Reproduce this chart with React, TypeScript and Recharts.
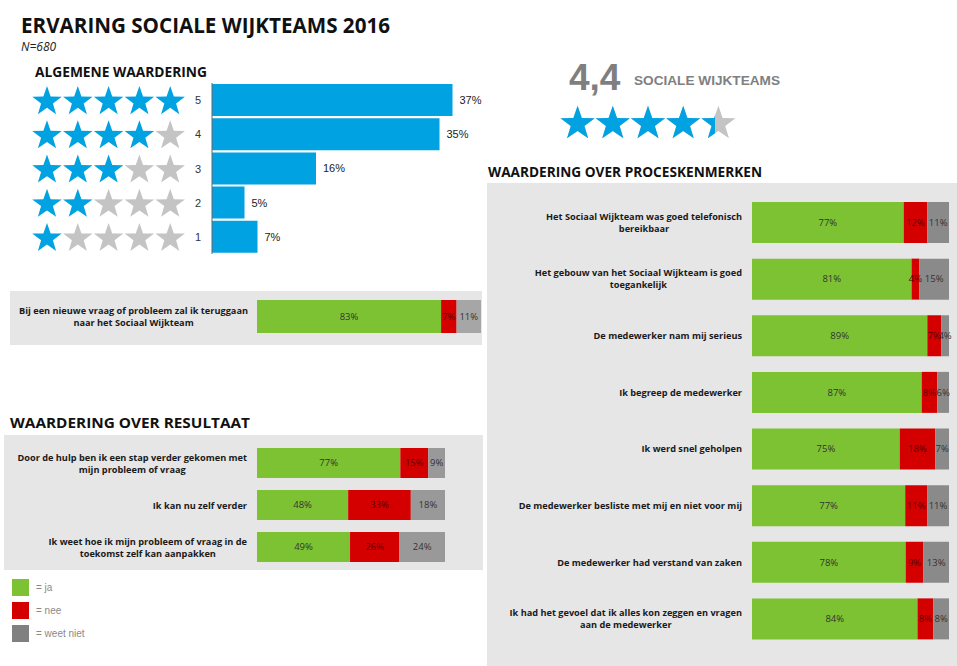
import React from 'react';
import { BarChart, Bar, XAxis, YAxis, LabelList } from 'recharts';

// algemene waardering (aantal sterren -> aandeel)
const ratingLevels = ['5', '4', '3', '2', '1'];
const ratingShares = [37, 35, 16, 5, 7];

const averageScore = 4.4;
const maxScore = 5;

const returnQuestions = ['Bij een nieuwe vraag of probleem zal ik teruggaan\nnaar het Sociaal Wijkteam'];
const returnJa = [83];
const returnNee = [7];
const returnWeet = [11];

const resultQuestions = [
  'Door de hulp ben ik een stap verder gekomen met\nmijn probleem of vraag',
  'Ik kan nu zelf verder',
  'Ik weet hoe ik mijn probleem of vraag in de\ntoekomst zelf kan aanpakken',
];
const resultJa = [77, 48, 49];
const resultNee = [15, 33, 26];
const resultWeet = [9, 18, 24];

const processQuestions = [
  'Het Sociaal Wijkteam was goed telefonisch\nbereikbaar',
  'Het gebouw van het Sociaal Wijkteam is goed\ntoegankelijk',
  'De medewerker nam mij serieus',
  'Ik begreep de medewerker',
  'Ik werd snel geholpen',
  'De medewerker besliste met mij en niet voor mij',
  'De medewerker had verstand van zaken',
  'Ik had het gevoel dat ik alles kon zeggen en vragen\naan de medewerker',
];
const processJa = [77, 81, 89, 87, 75, 77, 78, 84];
const processNee = [12, 4, 7, 8, 18, 11, 9, 8];
const processWeet = [11, 15, 4, 6, 7, 11, 13, 8];

const legendLabels = ['= ja', '= nee', '= weet niet'];

const BLUE = '#00a2e2';
const STAR_GRAY = '#c4c4c4';
const GREEN = '#7dc233';
const RED = '#d40000';
const PANEL = '#e6e6e6';
const LABEL_SIZE = 9.2;
const LABEL_FONT = `bold ${LABEL_SIZE}px 'Open Sans'`;

let measureCtx: CanvasRenderingContext2D | null = null;
function textWidth(text: string, font: string) {
  if (!measureCtx) measureCtx = document.createElement('canvas').getContext('2d');
  if (!measureCtx) return text.length * 5;
  measureCtx.font = font;
  return measureCtx.measureText(text).width;
}

function starPoints(cx: number, cy: number, R: number) {
  const r = R * 0.4;
  const pts: string[] = [];
  for (let k = 0; k < 10; k++) {
    const a = ((-90 + k * 36) * Math.PI) / 180;
    const rad = k % 2 === 0 ? R : r;
    pts.push(`${(cx + rad * Math.cos(a)).toFixed(2)},${(cy + rad * Math.sin(a)).toFixed(2)}`);
  }
  return pts.join(' ');
}

function StarTick(props: any) {
  const { y, payload } = props;
  const filled = Number(payload.value);
  const cy = y + 1.5;
  return (
    <g>
      {[0, 1, 2, 3, 4].map((i) => (
        <polygon key={i} points={starPoints(47 + i * 30.8, cy, 15.5)} fill={i < filled ? BLUE : STAR_GRAY} />
      ))}
      <text x={198} y={y} textAnchor="middle" dominantBaseline="central" fontSize={11} fontFamily="Arial" fill="#333">
        {payload.value}
      </text>
    </g>
  );
}

function ScoreStars(props: any) {
  const { x, y, width, height, payload } = props;
  const full = (width * maxScore) / payload.score;
  const unit = full / maxScore;
  const R = 18;
  const cy = y + height / 2 + 1.7;
  const stars = Array.from({ length: maxScore }, (_, i) => x + unit * (i + 0.5));
  return (
    <g>
      <defs>
        <clipPath id="scoreClip">
          <rect x={x} y={y - 5} width={width} height={height + 10} />
        </clipPath>
      </defs>
      {stars.map((cx, i) => (
        <polygon key={'g' + i} points={starPoints(cx, cy, R)} fill={STAR_GRAY} />
      ))}
      <g clipPath="url(#scoreClip)">
        {stars.map((cx, i) => (
          <polygon key={'b' + i} points={starPoints(cx, cy, R)} fill={BLUE} />
        ))}
      </g>
    </g>
  );
}

function QuestionTick(props: any) {
  const { y, payload, right } = props;
  const lines = String(payload.value).split('\n');
  const maxW = Math.max(...lines.map((l) => textWidth(l, LABEL_FONT)));
  const cx = right - maxW / 2;
  const lh = 12;
  return (
    <g>
      {lines.map((l, i) => (
        <text
          key={i}
          x={cx}
          y={y + (i - (lines.length - 1) / 2) * lh}
          textAnchor="middle"
          dominantBaseline="central"
          fontSize={LABEL_SIZE}
          fontWeight="bold"
          fontFamily="'Open Sans'"
          fill="#1a1a1a"
        >
          {l}
        </text>
      ))}
    </g>
  );
}

const pct = (v: any) => `${v}%`;

function StackedPanel(props: {
  questions: string[];
  ja: number[];
  nee: number[];
  weet: number[];
  width: number;
  height: number;
  axisWidth: number;
  labelRight: number;
  margin: { top: number; right: number; bottom: number; left: number };
  gap: number;
  gray: string;
}) {
  const { questions, ja, nee, weet, width, height, axisWidth, labelRight, margin, gap, gray } = props;
  const data = questions.map((q, i) => ({ q, ja: ja[i], nee: nee[i], weet: weet[i] }));
  return (
    <BarChart layout="vertical" width={width} height={height} data={data} margin={margin} stackOffset="expand" barCategoryGap={gap}>
      <XAxis type="number" domain={[0, 1]} hide />
      <YAxis
        type="category"
        dataKey="q"
        width={axisWidth}
        axisLine={false}
        tickLine={false}
        interval={0}
        tick={(p: any) => <QuestionTick {...p} right={labelRight} />}
      />
      <Bar dataKey="ja" stackId="s" fill={GREEN} isAnimationActive={false}>
        <LabelList dataKey="ja" position="center" formatter={pct} fontSize={9.5} fill="#333" />
      </Bar>
      <Bar dataKey="nee" stackId="s" fill={RED} isAnimationActive={false}>
        <LabelList dataKey="nee" position="center" formatter={pct} fontSize={9.5} fill="#5a0000" />
      </Bar>
      <Bar dataKey="weet" stackId="s" fill={gray} isAnimationActive={false}>
        <LabelList dataKey="weet" position="center" formatter={pct} fontSize={9.5} fill="#333" />
      </Bar>
    </BarChart>
  );
}

export default function App() {
  const ratingData = ratingLevels.map((level, i) => ({ level, share: ratingShares[i] }));
  const scoreData = [{ name: 'score', score: averageScore }];
  const legendColors = [GREEN, RED, '#808080'];

  return (
    <div
      style={{
        position: 'absolute',
        left: 0,
        top: 0,
        width: 957,
        height: 666,
        background: '#fff',
        fontFamily: "'Open Sans', sans-serif",
        overflow: 'hidden',
      }}
    >
      {/* grijze vlakken */}
      <div style={{ position: 'absolute', left: 10, top: 291, width: 472, height: 54, background: PANEL }} />
      <div style={{ position: 'absolute', left: 4, top: 435, width: 479, height: 135, background: PANEL }} />
      <div style={{ position: 'absolute', left: 487, top: 183, width: 470, height: 483, background: PANEL }} />

      <svg width={957} height={666} style={{ position: 'absolute', left: 0, top: 0 }}>
        <text x={21} y={33} fontSize={21} fontWeight="bold" fill="#111" textLength={369} lengthAdjust="spacingAndGlyphs">
          ERVARING SOCIALE WIJKTEAMS 2016
        </text>
        <text x={21} y={51} fontSize={12} fontStyle="italic" fill="#222">
          N=680
        </text>
        <text x={35} y={77} fontSize={14.5} fontWeight="bold" fill="#111" textLength={172} lengthAdjust="spacingAndGlyphs">
          ALGEMENE WAARDERING
        </text>
        <text x={569} y={90} fontSize={37} fontWeight="bold" fontFamily="Arial" fill="#7f7f7f">
          4,4
        </text>
        <text x={634} y={85} fontSize={13.5} fontWeight="bold" fontFamily="Arial" fill="#808080" textLength={146} lengthAdjust="spacingAndGlyphs">
          SOCIALE WIJKTEAMS
        </text>
        <text x={488} y={177} fontSize={14.5} fontWeight="bold" fill="#111" textLength={274} lengthAdjust="spacingAndGlyphs">
          WAARDERING OVER PROCESKENMERKEN
        </text>
        <text x={10} y={428} fontSize={14.5} fontWeight="bold" fill="#111" textLength={240} lengthAdjust="spacingAndGlyphs">
          WAARDERING OVER RESULTAAT
        </text>
        {legendLabels.map((l, i) => (
          <g key={l}>
            <rect x={12} y={579 + i * 23} width={17} height={17} fill={legendColors[i]} />
            <text x={36} y={591 + i * 23} fontSize={10} fontFamily="Arial" fill="#8a8a8a">
              {l}
            </text>
          </g>
        ))}
      </svg>

      <div style={{ position: 'absolute', left: 0, top: 83 }}>
        <BarChart layout="vertical" width={500} height={171} data={ratingData} margin={{ top: 0, right: 28, bottom: 0, left: 0 }} barCategoryGap={1}>
          <XAxis type="number" domain={[0, 40]} hide />
          <YAxis type="category" dataKey="level" width={212} axisLine={{ stroke: '#666' }} tickLine={false} tick={StarTick} interval={0} />
          <Bar dataKey="share" fill={BLUE} isAnimationActive={false}>
            <LabelList dataKey="share" position="right" offset={7} formatter={pct} fontSize={11} fontFamily="Arial" fill="#222" />
          </Bar>
        </BarChart>
      </div>

      <div style={{ position: 'absolute', left: 560, top: 104 }}>
        <BarChart layout="vertical" width={176} height={36} data={scoreData} margin={{ top: 0, right: 0, bottom: 0, left: 0 }} barCategoryGap={0}>
          <XAxis type="number" domain={[0, maxScore]} hide />
          <YAxis type="category" dataKey="name" hide />
          <Bar dataKey="score" isAnimationActive={false} shape={ScoreStars} />
        </BarChart>
      </div>

      <div style={{ position: 'absolute', left: 10, top: 291 }}>
        <StackedPanel
          questions={returnQuestions}
          ja={returnJa}
          nee={returnNee}
          weet={returnWeet}
          width={472}
          height={54}
          axisWidth={247}
          labelRight={238}
          margin={{ top: 9, right: 1, bottom: 12, left: 0 }}
          gap={0}
          gray="#a6a6a6"
        />
      </div>

      <div style={{ position: 'absolute', left: 4, top: 442 }}>
        <StackedPanel
          questions={resultQuestions}
          ja={resultJa}
          nee={resultNee}
          weet={resultWeet}
          width={479}
          height={126}
          axisWidth={253}
          labelRight={243}
          margin={{ top: 0, right: 38, bottom: 0, left: 0 }}
          gap={6}
          gray="#999999"
        />
      </div>

      <div style={{ position: 'absolute', left: 487, top: 194 }}>
        <StackedPanel
          questions={processQuestions}
          ja={processJa}
          nee={processNee}
          weet={processWeet}
          width={470}
          height={453}
          axisWidth={265}
          labelRight={255}
          margin={{ top: 0, right: 8, bottom: 0, left: 0 }}
          gap={8}
          gray="#8a8a8a"
        />
      </div>
    </div>
  );
}
